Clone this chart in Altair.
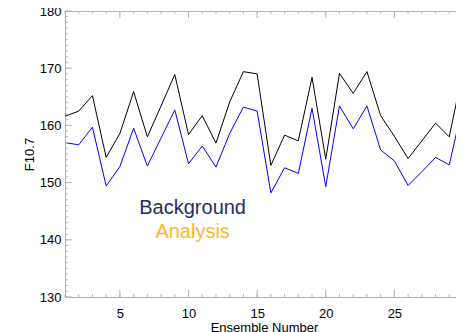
import altair as alt
import pandas as pd

# ---- data ----
ensemble = list(range(1, 31))
background = [161.6, 162.5, 165.2, 154.4, 158.6, 165.9, 158.0, 163.4, 168.9, 158.4,
              161.7, 156.9, 164.1, 169.4, 169.0, 153.0, 158.3, 157.3, 168.4, 154.1,
              169.1, 165.6, 169.4, 161.7, 158.1, 154.2, 157.3, 160.4, 158.0, 169.6]
analysis = [157.0, 156.6, 159.7, 149.4, 152.8, 159.5, 152.9, 157.8, 162.7, 153.3,
            156.4, 152.7, 158.6, 163.2, 162.5, 148.2, 152.6, 151.6, 163.0, 149.3,
            163.4, 159.4, 163.4, 155.7, 153.8, 149.5, 151.9, 154.4, 153.1, 163.7]
series_names = ["Background", "Analysis"]
series_colors = ["#000000", "#0000ff"]

x_label_values = [5, 10, 15, 20, 25, 30]
y_label_values = [130, 140, 150, 160, 170, 180]
x_minor_ticks = list(range(1, 31))
x_major_ticks = [5, 10, 15, 20, 25, 30]
y_minor_ticks = list(range(130, 181))
y_major_ticks = [130, 140, 150, 160, 170, 180]

legend_labels = ["Background", "Analysis"]
legend_colors = ["#1f2d5c", "#fbb829"]
legend_x = [10.3, 10.3]
legend_y = [144.5, 140.4]

# ---- layout / style ----
W, H = 398, 286
FONT = "Liberation Sans"
TICK = "#b4b4b4"
MAJ, MIN = 7, 3

xs = alt.Scale(domain=[1, 30], nice=False, zero=False)
ys = alt.Scale(domain=[130, 180], nice=False, zero=False)

x_axis = alt.Axis(
    values=x_label_values, title="Ensemble Number", ticks=False, domain=False,
    grid=False, labelPadding=10, labelFontSize=13, titleFontSize=13,
    titlePadding=1, labelColor="black", titleColor="black", labelFont=FONT,
    titleFont=FONT, titleFontWeight="normal", labelFlush=False)
y_axis = alt.Axis(
    values=y_label_values, title="F10.7", ticks=False, domain=False,
    grid=False, labelPadding=4, labelFontSize=13, titleFontSize=13,
    titlePadding=3, labelColor="black", titleColor="black", labelFont=FONT,
    titleFont=FONT, titleFontWeight="normal")

df = pd.DataFrame({
    "n": ensemble * 2,
    "v": background + analysis,
    "s": [series_names[0]] * len(background) + [series_names[1]] * len(analysis),
})

lines = alt.Chart(df).mark_line(strokeWidth=1).encode(
    x=alt.X("n:Q", scale=xs, axis=x_axis, title="Ensemble Number"),
    y=alt.Y("v:Q", scale=ys, axis=y_axis, title="F10.7"),
    color=alt.Color("s:N", scale=alt.Scale(domain=series_names, range=series_colors),
                    legend=None),
    order=alt.Order("n:Q"),
)


def xticks(vals, length, top):
    d = pd.DataFrame({"n": vals})
    y0 = 0 if top else H
    y1 = length if top else H - length
    return alt.Chart(d).mark_rule(color=TICK, strokeWidth=1).encode(
        x=alt.X("n:Q", scale=xs, axis=x_axis, title="Ensemble Number"),
        y=alt.value(y0), y2=alt.value(y1))


def yticks(vals, length, right):
    d = pd.DataFrame({"v": vals})
    x0 = W if right else 0
    x1 = W - length if right else length
    return alt.Chart(d).mark_rule(color=TICK, strokeWidth=1).encode(
        y=alt.Y("v:Q", scale=ys, axis=y_axis, title="F10.7"),
        x=alt.value(x0), x2=alt.value(x1))


ticks = [
    xticks(x_minor_ticks, MIN, False), xticks(x_major_ticks, MAJ, False),
    xticks(x_minor_ticks, MIN, True), xticks(x_major_ticks, MAJ, True),
    yticks(y_minor_ticks, MIN, False), yticks(y_major_ticks, MAJ, False),
    yticks(y_minor_ticks, MIN, True), yticks(y_major_ticks, MAJ, True),
]

leg_df = pd.DataFrame({"lab": legend_labels, "n": legend_x, "v": legend_y})
legend = alt.Chart(leg_df).mark_text(
    font=FONT, fontSize=20, align="center", baseline="alphabetic").encode(
    x=alt.X("n:Q", scale=xs, axis=x_axis, title="Ensemble Number"),
    y=alt.Y("v:Q", scale=ys, axis=y_axis, title="F10.7"),
    text="lab:N",
    fill=alt.Fill("lab:N", scale=alt.Scale(domain=legend_labels, range=legend_colors),
                  legend=None),
)

# the reference is cropped at its right edge: the svg is kept at 448 px wide
# (the page's content width) so it is not scaled, and the rest is clipped
chart = alt.layer(lines, *ticks, legend).properties(
    width=W, height=H,
    title=alt.TitleParams("F10.7 Ensemble System Results", color="#1f2d5c",
                          fontSize=20, fontWeight="normal", font=FONT,
                          anchor="middle", offset=8),
    autosize=alt.AutoSizeParams(type="none"),
    padding={"left": 57, "top": 3, "right": -7, "bottom": 35},
).configure_view(stroke=TICK, strokeWidth=1)

chart.save("out.html", embed_options={"renderer": "svg", "actions": False})
